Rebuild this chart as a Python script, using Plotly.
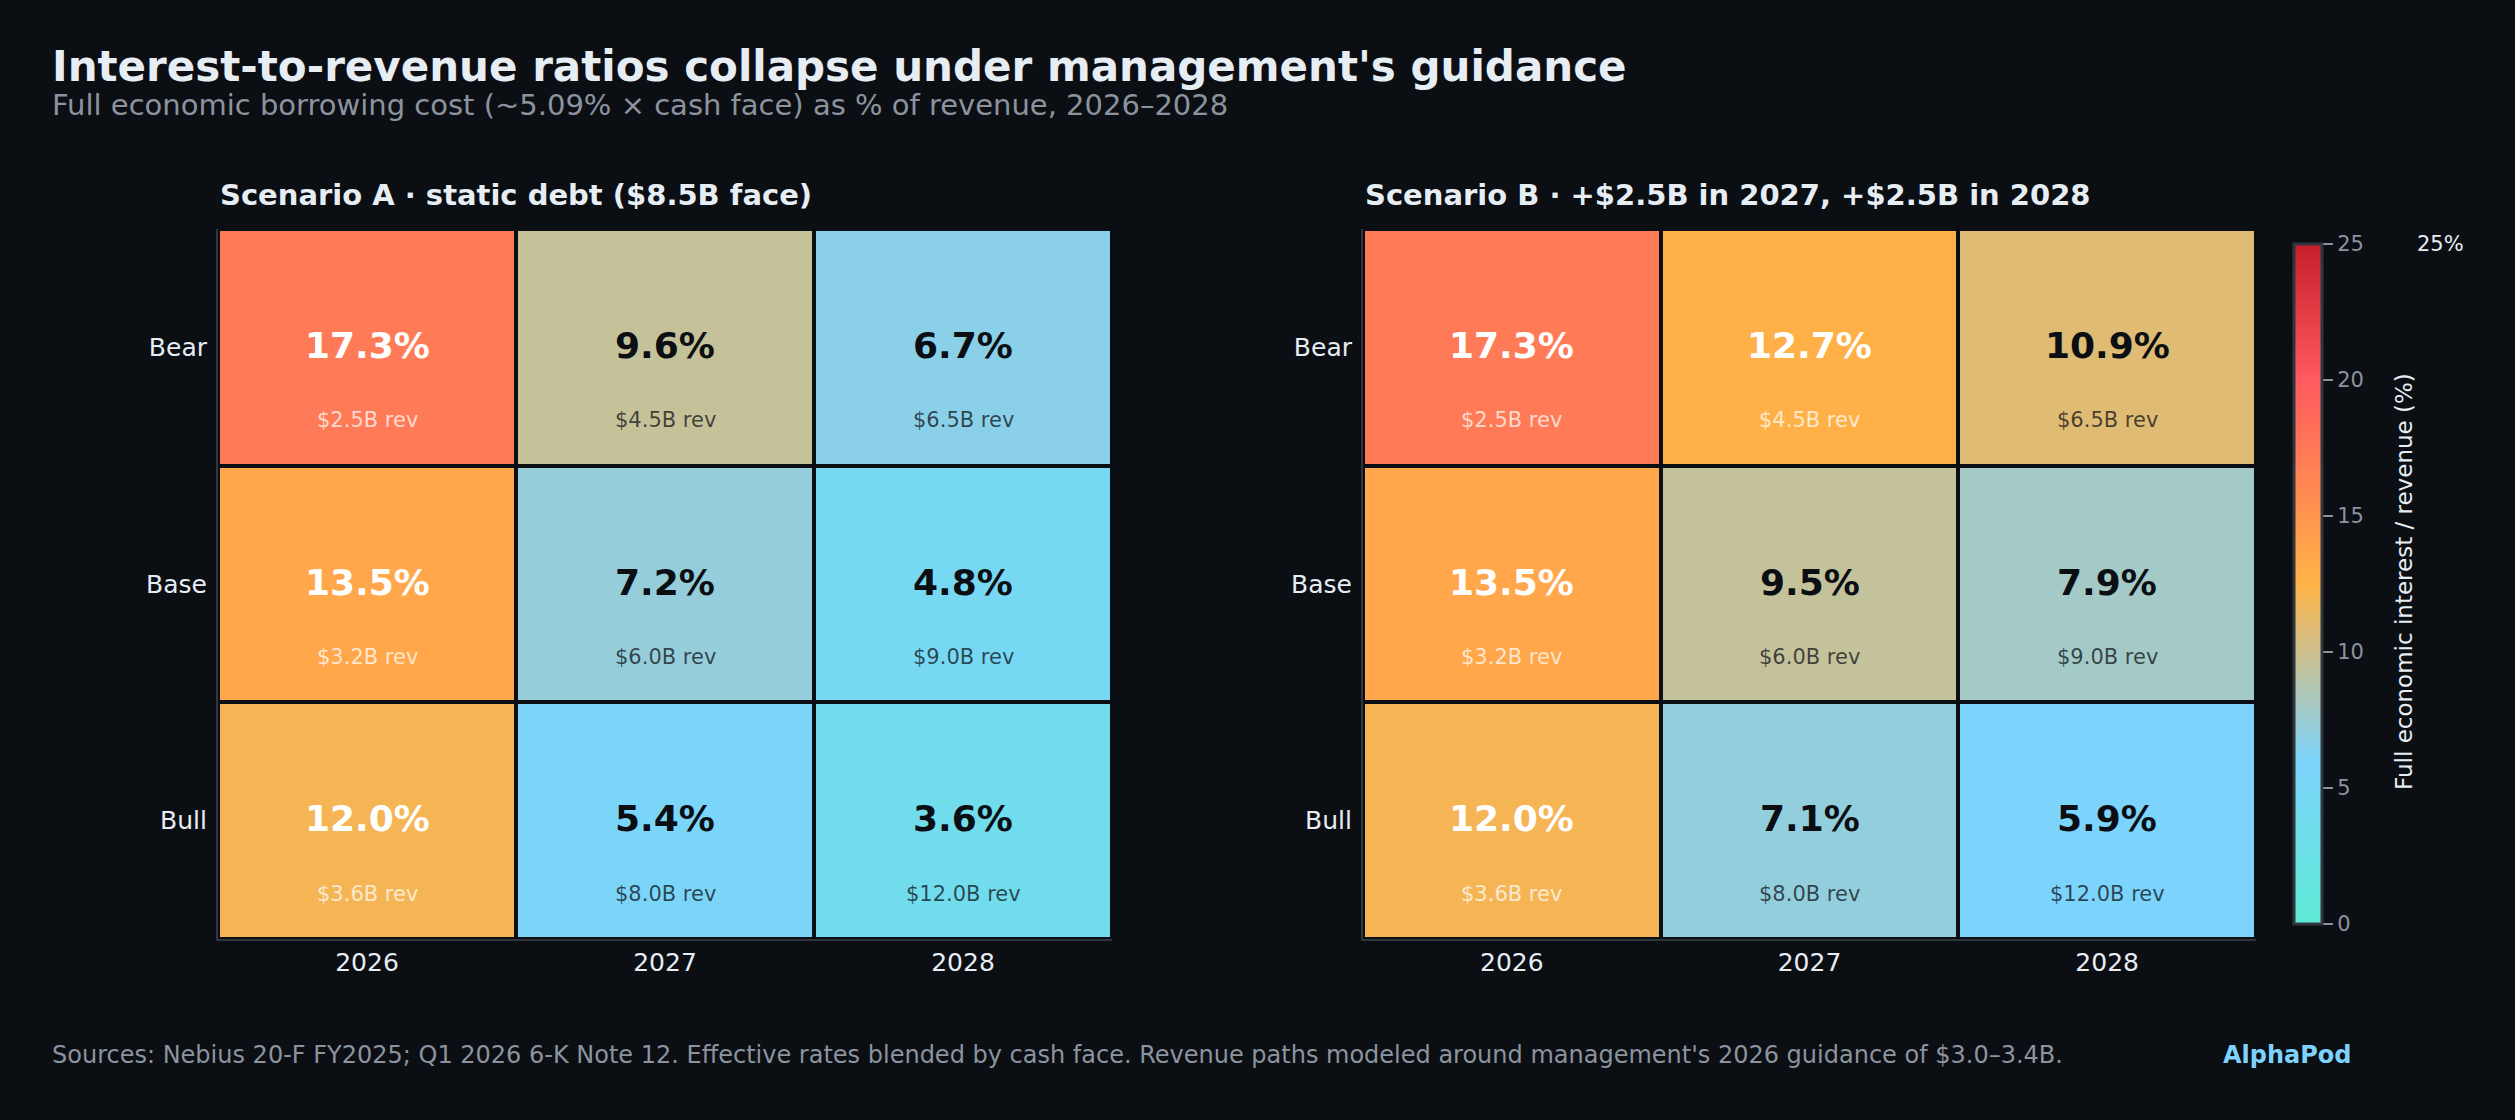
import plotly.graph_objects as go

# ---------------- data ----------------
years = ["2026", "2027", "2028"]
scenarios = ["Bear", "Base", "Bull"]  # top to bottom
revenue_b = [[2.5, 4.5, 6.5], [3.2, 6.0, 9.0], [3.6, 8.0, 12.0]]
ratio_a = [[17.3, 9.6, 6.7], [13.5, 7.2, 4.8], [12.0, 5.4, 3.6]]
ratio_b = [[17.3, 12.7, 10.9], [13.5, 9.5, 7.9], [12.0, 7.1, 5.9]]
panel_titles = ["Scenario A · static debt ($8.5B face)",
                "Scenario B · +$2.5B in 2027, +$2.5B in 2028"]
cbar_ticks = [0, 5, 10, 15, 20, 25]

W, H = 2515, 1120
BG = "#0b0e13"
FONT = "DejaVu Sans"
LIGHT = "#e6edf3"
MUTED = "#8b949e"
SPINE = "#30363d"

colorscale = [[0.0, "#5eead4"], [0.24, "#7dd3fc"], [0.5, "#ffb347"],
              [0.8, "#ff5a5f"], [1.0, "#c81e2b"]]

def px_x(p):
    return p / W

def px_y(p):
    return 1 - p / H

fig = go.Figure()

domains_x = [[px_x(218), px_x(1112)], [px_x(1363), px_x(2256)]]
dom_y = [px_y(939), px_y(229)]
annotations = []
n_rows = len(scenarios)

for i, (z, ttl) in enumerate(zip([ratio_a, ratio_b], panel_titles)):
    xa = "x" if i == 0 else "x2"
    ya = "y" if i == 0 else "y2"
    fig.add_trace(go.Heatmap(
        z=z, x=years, y=scenarios, coloraxis="coloraxis",
        xgap=4, ygap=4, xaxis=xa, yaxis=ya, hoverinfo="skip"))
    for r in range(n_rows):
        for c in range(len(years)):
            v = z[r][c]
            yi = n_rows - 1 - r  # category index (Bull at bottom)
            white = v >= 11.5
            vcol = "#ffffff" if white else "#0b0e13"
            rcol = "rgba(255,255,255,0.72)" if white else "rgba(11,14,19,0.72)"
            annotations.append(dict(
                x=c, y=yi, xref=xa, yref=ya, text=f"{v:.1f}%",
                showarrow=False, yshift=2,
                font=dict(family=FONT, size=36, color=vcol, weight="bold")))
            annotations.append(dict(
                x=c, y=yi, xref=xa, yref=ya, text=f"${revenue_b[r][c]:.1f}B rev",
                showarrow=False, yshift=-73,
                font=dict(family=FONT, size=21, color=rcol)))
    annotations.append(dict(
        x=domains_x[i][0], y=px_y(195), xref="paper", yref="paper",
        xanchor="left", yanchor="middle", text=ttl, showarrow=False,
        font=dict(family=FONT, size=29, color=LIGHT, weight="bold")))

# title, subtitle, footer
annotations += [
    dict(x=px_x(50), y=px_y(66), xref="paper", yref="paper", xanchor="left",
         yanchor="middle", showarrow=False,
         text="Interest-to-revenue ratios collapse under management's guidance",
         font=dict(family=FONT, size=42, color=LIGHT, weight="bold")),
    dict(x=px_x(50), y=px_y(105), xref="paper", yref="paper", xanchor="left",
         yanchor="middle", showarrow=False,
         text="Full economic borrowing cost (~5.09% × cash face) as % of revenue, 2026–2028",
         font=dict(family=FONT, size=29, color=MUTED)),
    dict(x=px_x(50), y=px_y(1055), xref="paper", yref="paper", xanchor="left",
         yanchor="middle", showarrow=False,
         text="Sources: Nebius 20-F FY2025; Q1 2026 6-K Note 12. Effective rates blended by cash face. "
              "Revenue paths modeled around management's 2026 guidance of $3.0–3.4B.",
         font=dict(family=FONT, size=24, color=MUTED)),
    dict(x=px_x(2354), y=px_y(1055), xref="paper", yref="paper", xanchor="right",
         yanchor="middle", showarrow=False, text="AlphaPod",
         font=dict(family=FONT, size=24, color="#7dd3fc", weight="bold")),
    dict(x=px_x(2404), y=px_y(582), xref="paper", yref="paper", xanchor="center",
         yanchor="middle", showarrow=False, textangle=-90,
         text="Full economic interest / revenue (%)",
         font=dict(family=FONT, size=23, color=LIGHT)),
    dict(x=px_x(2415), y=px_y(244), xref="paper", yref="paper", xanchor="left",
         yanchor="middle", showarrow=False, text="25%",
         font=dict(family=FONT, size=21, color=LIGHT)),
]

axis_common_x = dict(type="category", showgrid=False, zeroline=False, showline=True,
                     linecolor=SPINE, linewidth=2, ticks="", ticklabelstandoff=0,
                     tickfont=dict(family=FONT, size=25, color=LIGHT), fixedrange=True,
                     categoryorder="array", categoryarray=years, range=[-0.5, 2.5])
axis_common_y = dict(type="category", showgrid=False, zeroline=False, showline=True,
                     linecolor=SPINE, linewidth=2, ticks="", ticklabelstandoff=4,
                     tickfont=dict(family=FONT, size=25, color=LIGHT), fixedrange=True,
                     categoryorder="array", categoryarray=scenarios[::-1], range=[-0.5, 2.5])

fig.update_layout(
    width=W, height=H, margin=dict(l=0, r=0, t=0, b=0, autoexpand=False),
    paper_bgcolor=BG, plot_bgcolor=BG,
    font=dict(family=FONT, color=LIGHT),
    xaxis=dict(domain=domains_x[0], anchor="y", **axis_common_x),
    yaxis=dict(domain=dom_y, anchor="x", **axis_common_y),
    xaxis2=dict(domain=domains_x[1], anchor="y2", **axis_common_x),
    yaxis2=dict(domain=dom_y, anchor="x2", **axis_common_y),
    coloraxis=dict(
        cmin=0, cmax=25, colorscale=colorscale,
        colorbar=dict(
            x=px_x(2294), xanchor="left", y=px_y(924), yanchor="bottom",
            xpad=0, ypad=0, thickness=28, lenmode="pixels", len=680,
            outlinecolor=SPINE, outlinewidth=3,
            tickvals=cbar_ticks, ticks="outside", ticklen=10, tickwidth=2,
            tickcolor=MUTED, tickfont=dict(family=FONT, size=21, color=MUTED),
        )),
    annotations=annotations,
    showlegend=False,
)

fig.write_html("out.html", config={"displayModeBar": False})
